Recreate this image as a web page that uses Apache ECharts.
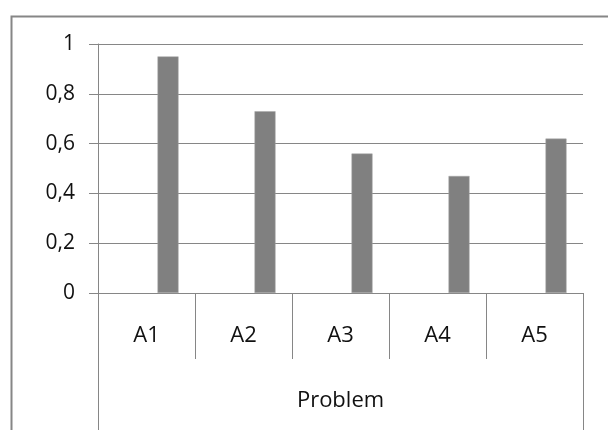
<!DOCTYPE html>
<html>
<head>
<meta charset="utf-8">
<script src="https://cdn.jsdelivr.net/npm/echarts@6/dist/echarts.min.js"></script>
<style>
html,body{margin:0;padding:0;background:#fff;}
#c{width:608px;height:430px;}
</style>
</head>
<body>
<div id="c"></div>
<script>
var categories = ['A1', 'A2', 'A3', 'A4', 'A5'];
var groupLabel = ['Problem'];
var values = [0.95, 0.73, 0.56, 0.47, 0.62];
var emptySeries = ['-', '-', '-', '-', '-'];
var yMin = 0, yMax = 1, yStep = 0.2;

var FONT = 'Open Sans';
var lineCol = '#868686';
var chart = echarts.init(document.getElementById('c'), null, {renderer: 'canvas'});
chart.setOption({
  animation: false,
  backgroundColor: '#fff',
  graphic: [{
    type: 'rect', left: 9, top: 14, z: -1,
    shape: {width: 700, height: 500},
    style: {fill: 'none', stroke: '#868686', lineWidth: 2}
  }],
  grid: {left: 98, right: 25, top: 44, bottom: 137, containLabel: false},
  xAxis: [{
    type: 'category',
    data: categories,
    boundaryGap: true,
    axisLine: {show: true, lineStyle: {color: lineCol, width: 1}},
    axisTick: {show: true, length: 66, lineStyle: {color: lineCol, width: 1}},
    axisLabel: {color: '#111', fontFamily: FONT, fontSize: 22, lineHeight: 30, margin: 28}
  }, {
    type: 'category',
    data: groupLabel,
    position: 'bottom',
    boundaryGap: true,
    axisLine: {show: false},
    axisTick: {show: true, length: 140, lineStyle: {color: lineCol, width: 1}},
    axisLabel: {color: '#111', fontFamily: FONT, fontSize: 22, lineHeight: 30, margin: 93}
  }],
  yAxis: {
    type: 'value', min: yMin, max: yMax, interval: yStep,
    axisLine: {show: true, lineStyle: {color: lineCol, width: 1}},
    axisTick: {show: true, length: 9, lineStyle: {color: lineCol, width: 1}},
    splitLine: {show: true, lineStyle: {color: lineCol, width: 1}},
    axisLabel: {
      color: '#111', fontFamily: FONT, fontSize: 21, margin: 23,
      formatter: function (v) { return String(Math.round(v * 10) / 10).replace('.', ','); }
    }
  },
  series: [{
    type: 'bar', xAxisIndex: 0, data: emptySeries, barWidth: 21, barGap: '105%',
    itemStyle: {color: '#808080'}
  }, {
    type: 'bar', xAxisIndex: 0, data: values, barWidth: 21, barGap: '105%',
    itemStyle: {color: '#808080', borderColor: '#a6a6a6', borderWidth: 0.5}
  }]
});
</script>
</body>
</html>
